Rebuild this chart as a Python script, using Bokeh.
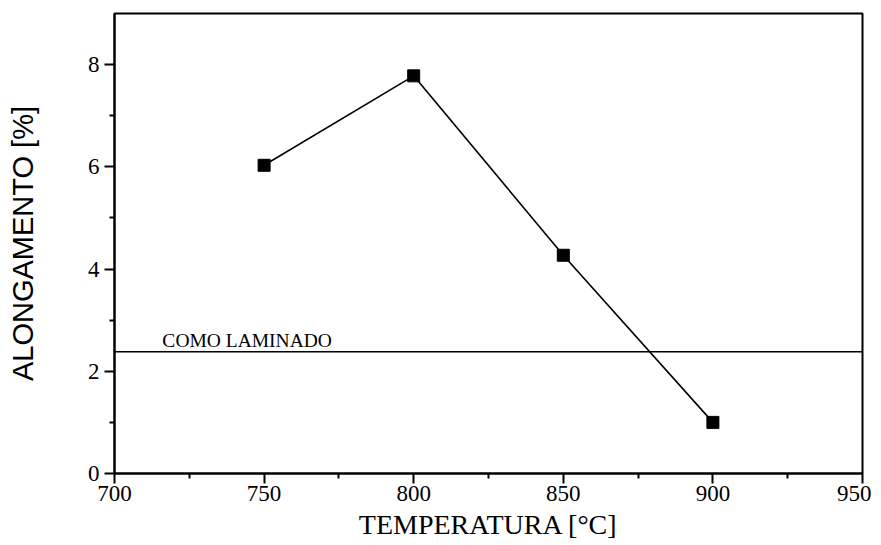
from bokeh.plotting import figure
from bokeh.models import FixedTicker, Span, Range1d, Label
from bokeh.embed import file_html
from bokeh.resources import INLINE

temperatura = [750, 800, 850, 900]
alongamento = [6.03, 7.78, 4.27, 1.0]
como_laminado = 2.38
x_ticks = [700, 750, 800, 850, 900, 950]
x_minor = [725, 775, 825, 875, 925]
y_ticks = [0, 2, 4, 6, 8]
y_minor = [1, 3, 5, 7]

p = figure(width=871, height=542, output_backend="svg", toolbar_location=None,
           x_range=Range1d(700, 950), y_range=Range1d(0, 9),
           min_border_left=114, min_border_top=13, min_border_right=9, min_border_bottom=68)
p.background_fill_color = "white"
p.border_fill_color = "white"
p.outline_line_color = "black"
p.outline_line_width = 2
p.xgrid.visible = False
p.ygrid.visible = False

for ax, major, minor in ((p.xaxis[0], x_ticks, x_minor), (p.yaxis[0], y_ticks, y_minor)):
    ax.ticker = FixedTicker(ticks=major, minor_ticks=minor)
    ax.axis_line_width = 2
    ax.axis_line_color = "black"
    ax.major_tick_line_width = 2
    ax.minor_tick_line_width = 2
    ax.major_tick_out = 10
    ax.major_tick_in = 0
    ax.minor_tick_out = 5
    ax.minor_tick_in = 0
    ax.major_label_text_font = "Liberation Serif"
    ax.major_label_text_font_size = "23px"
    ax.major_label_text_color = "black"
    ax.axis_label_text_color = "black"
    ax.axis_label_text_font_style = "normal"

p.xaxis.axis_label = "TEMPERATURA [°C]"
p.xaxis.axis_label_text_font = "Liberation Serif"
p.xaxis.axis_label_text_font_size = "28px"
p.xaxis.axis_label_standoff = 5
p.xaxis.major_label_standoff = 2

p.yaxis.axis_label = "ALONGAMENTO [%]"
p.yaxis.axis_label_text_font = "Liberation Sans"
p.yaxis.axis_label_text_font_size = "29px"
p.yaxis.axis_label_standoff = 46
p.yaxis.major_label_standoff = 5

p.add_layout(Span(location=como_laminado, dimension="width", line_color="black", line_width=1.5))
p.add_layout(Label(x=716, y=como_laminado + 0.23, text="COMO LAMINADO",
                   text_font="Liberation Serif", text_font_size="19.5px", text_color="black",
                   text_baseline="alphabetic"))

p.line(temperatura, alongamento, line_color="black", line_width=1.6)
p.scatter(temperatura, alongamento, marker="square", size=12, fill_color="black", line_color="black")

open("out.html", "w").write(file_html(p, INLINE))
